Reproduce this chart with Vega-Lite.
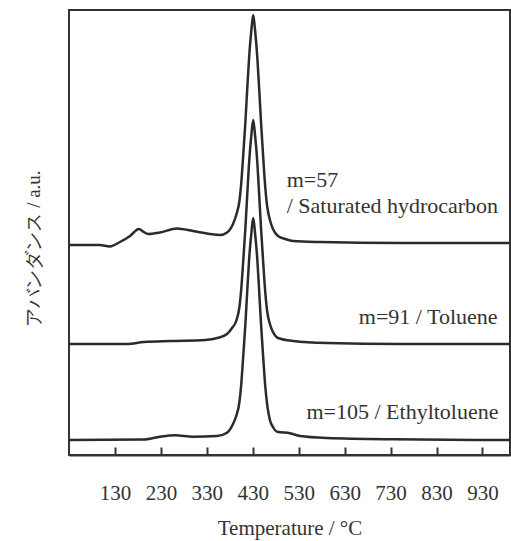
{
  "$schema": "https://vega.github.io/schema/vega-lite/v6.json",
  "width": 441,
  "height": 445,
  "autosize": {"type": "none"},
  "padding": {"left": 69, "top": 10, "right": 1, "bottom": 86},
  "background": "white",
  "config": {"view": {"stroke": "#333", "strokeWidth": 2}, "font": "Liberation Serif", "text": {"font": "Liberation Serif"}},
  "datasets": {
    "curves": [
      {"series": "m57", "T": 30, "h": 210}, {"series": "m57", "T": 97, "h": 210}, {"series": "m57", "T": 119, "h": 208.5},
      {"series": "m57", "T": 141, "h": 213}, {"series": "m57", "T": 163, "h": 219}, {"series": "m57", "T": 182, "h": 226},
      {"series": "m57", "T": 193, "h": 223}, {"series": "m57", "T": 202, "h": 221}, {"series": "m57", "T": 228, "h": 222.5},
      {"series": "m57", "T": 265, "h": 226.5}, {"series": "m57", "T": 300, "h": 224}, {"series": "m57", "T": 337, "h": 221},
      {"series": "m57", "T": 359, "h": 220}, {"series": "m57", "T": 374, "h": 222.5}, {"series": "m57", "T": 387, "h": 231},
      {"series": "m57", "T": 394, "h": 240}, {"series": "m57", "T": 401, "h": 254}, {"series": "m57", "T": 405, "h": 272},
      {"series": "m57", "T": 409, "h": 298}, {"series": "m57", "T": 414, "h": 333}, {"series": "m57", "T": 418, "h": 366},
      {"series": "m57", "T": 422, "h": 397}, {"series": "m57", "T": 427, "h": 425}, {"series": "m57", "T": 431, "h": 440},
      {"series": "m57", "T": 435, "h": 425}, {"series": "m57", "T": 440, "h": 397}, {"series": "m57", "T": 444, "h": 366},
      {"series": "m57", "T": 448, "h": 333}, {"series": "m57", "T": 453, "h": 296}, {"series": "m57", "T": 457, "h": 269},
      {"series": "m57", "T": 461, "h": 250}, {"series": "m57", "T": 468, "h": 234}, {"series": "m57", "T": 474, "h": 226},
      {"series": "m57", "T": 485, "h": 219}, {"series": "m57", "T": 501, "h": 216}, {"series": "m57", "T": 518, "h": 214},
      {"series": "m57", "T": 577, "h": 213}, {"series": "m57", "T": 751, "h": 212}, {"series": "m57", "T": 990, "h": 212},

      {"series": "m91", "T": 30, "h": 111}, {"series": "m91", "T": 97, "h": 111}, {"series": "m91", "T": 156, "h": 111},
      {"series": "m91", "T": 193, "h": 113}, {"series": "m91", "T": 252, "h": 114}, {"series": "m91", "T": 327, "h": 115},
      {"series": "m91", "T": 353, "h": 117}, {"series": "m91", "T": 374, "h": 121}, {"series": "m91", "T": 385, "h": 127},
      {"series": "m91", "T": 394, "h": 134}, {"series": "m91", "T": 401, "h": 148}, {"series": "m91", "T": 405, "h": 166},
      {"series": "m91", "T": 409, "h": 192}, {"series": "m91", "T": 414, "h": 227}, {"series": "m91", "T": 418, "h": 260},
      {"series": "m91", "T": 422, "h": 292}, {"series": "m91", "T": 427, "h": 320}, {"series": "m91", "T": 431, "h": 335},
      {"series": "m91", "T": 435, "h": 320}, {"series": "m91", "T": 440, "h": 292}, {"series": "m91", "T": 444, "h": 260},
      {"series": "m91", "T": 448, "h": 227}, {"series": "m91", "T": 453, "h": 191}, {"series": "m91", "T": 457, "h": 164},
      {"series": "m91", "T": 461, "h": 145}, {"series": "m91", "T": 468, "h": 130}, {"series": "m91", "T": 474, "h": 123},
      {"series": "m91", "T": 485, "h": 117}, {"series": "m91", "T": 518, "h": 114}, {"series": "m91", "T": 592, "h": 112},
      {"series": "m91", "T": 751, "h": 111}, {"series": "m91", "T": 990, "h": 111},

      {"series": "m105", "T": 30, "h": 15}, {"series": "m105", "T": 192, "h": 15.5}, {"series": "m105", "T": 228, "h": 18.3},
      {"series": "m105", "T": 261, "h": 19.7}, {"series": "m105", "T": 300, "h": 18.3}, {"series": "m105", "T": 352, "h": 19},
      {"series": "m105", "T": 374, "h": 22.3}, {"series": "m105", "T": 387, "h": 31}, {"series": "m105", "T": 394, "h": 39},
      {"series": "m105", "T": 401, "h": 53}, {"series": "m105", "T": 405, "h": 71}, {"series": "m105", "T": 409, "h": 97},
      {"series": "m105", "T": 414, "h": 131}, {"series": "m105", "T": 418, "h": 164}, {"series": "m105", "T": 422, "h": 195},
      {"series": "m105", "T": 427, "h": 222}, {"series": "m105", "T": 431, "h": 237}, {"series": "m105", "T": 435, "h": 222},
      {"series": "m105", "T": 440, "h": 195}, {"series": "m105", "T": 444, "h": 164}, {"series": "m105", "T": 448, "h": 131},
      {"series": "m105", "T": 453, "h": 96}, {"series": "m105", "T": 457, "h": 70}, {"series": "m105", "T": 461, "h": 52},
      {"series": "m105", "T": 468, "h": 34}, {"series": "m105", "T": 474, "h": 28}, {"series": "m105", "T": 483, "h": 23.3},
      {"series": "m105", "T": 511, "h": 21.7}, {"series": "m105", "T": 533, "h": 19}, {"series": "m105", "T": 592, "h": 17},
      {"series": "m105", "T": 736, "h": 15.7}, {"series": "m105", "T": 990, "h": 15}
    ],
    "labelsLeft": [
      {"label": "m=57", "T": 504, "h": 275},
      {"label": "/ Saturated hydrocarbon", "T": 504, "h": 249}
    ],
    "labelsRight": [
      {"label": "m=91 / Toluene", "T": 963, "h": 138},
      {"label": "m=105 / Ethyltoluene", "T": 965, "h": 43}
    ]
  },
  "layer": [
    {
      "data": {"name": "curves"},
      "mark": {"type": "line", "interpolate": "monotone", "strokeWidth": 2.5, "color": "#2b2b2b"},
      "encoding": {
        "x": {
          "field": "T", "type": "quantitative",
          "scale": {"domain": [30, 990], "nice": false, "zero": false},
          "axis": {
            "title": "Temperature / °C",
            "values": [130, 230, 330, 430, 530, 630, 730, 830, 930],
            "tickSize": -8, "tickWidth": 2, "tickColor": "#333",
            "domain": true, "domainColor": "#333", "domainWidth": 2,
            "grid": false,
            "labelFont": "Liberation Serif", "labelFontSize": 21, "labelColor": "#333", "labelPadding": 35,
            "titleFont": "Liberation Serif", "titleFontSize": 21, "titleFontWeight": "normal", "titleColor": "#333", "titlePadding": 14
          }
        },
        "y": {
          "field": "h", "type": "quantitative",
          "scale": {"domain": [0, 445], "nice": false},
          "axis": {
            "title": "アバンダンス / a.u.",
            "labels": false, "ticks": false, "domain": false, "grid": false,
            "titleFont": "Liberation Serif", "titleFontSize": 19, "titleFontWeight": "normal",
            "titleColor": "#333", "titleX": -26, "titleY": 238
          }
        },
        "detail": {"field": "series", "type": "nominal"}
      }
    },
    {
      "data": {"name": "labelsLeft"},
      "mark": {"type": "text", "font": "Liberation Serif", "fontSize": 22, "color": "#333", "align": "left", "baseline": "middle"},
      "encoding": {
        "x": {"field": "T", "type": "quantitative"},
        "y": {"field": "h", "type": "quantitative"},
        "text": {"field": "label", "type": "nominal"}
      }
    },
    {
      "data": {"name": "labelsRight"},
      "mark": {"type": "text", "font": "Liberation Serif", "fontSize": 22, "color": "#333", "align": "right", "baseline": "middle"},
      "encoding": {
        "x": {"field": "T", "type": "quantitative"},
        "y": {"field": "h", "type": "quantitative"},
        "text": {"field": "label", "type": "nominal"}
      }
    }
  ]
}
